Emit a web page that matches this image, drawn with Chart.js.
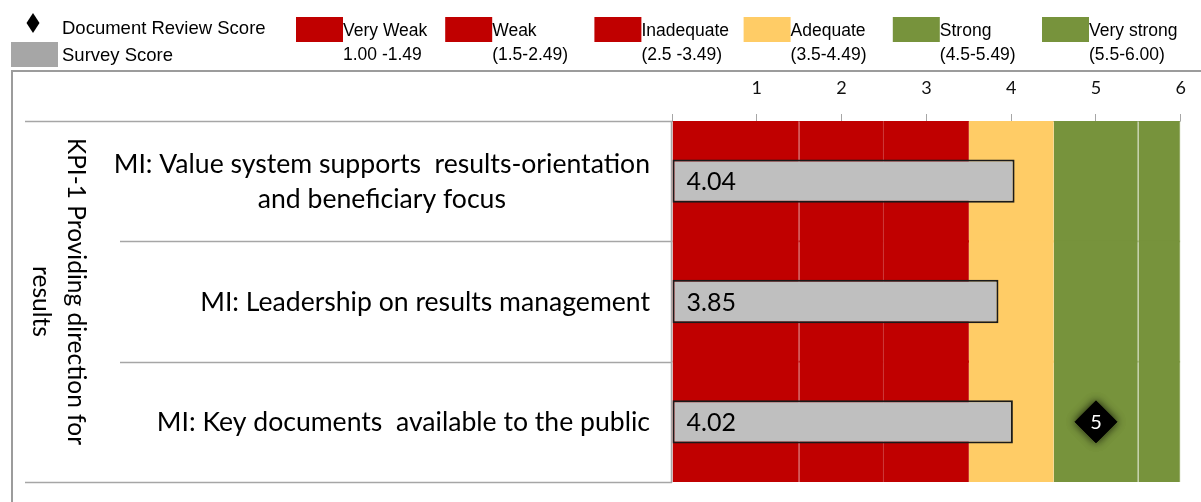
<!DOCTYPE html>
<html>
<head>
<meta charset="utf-8">
<title>KPI-1 Providing direction for results</title>
<script src="https://cdn.jsdelivr.net/npm/chart.js@4.4.1/dist/chart.umd.min.js"></script>
<style>
  html, body { margin: 0; padding: 0; background: #fff; }
  #wrap { width: 1201px; height: 502px; }
</style>
</head>
<body>
<div id="wrap"><canvas id="kpiChart" width="1201" height="502"></canvas></div>
<script>
// data
var groupLabel = ['KPI-1 Providing direction for', 'results'];
var rowLabels = [
    ['MI: Value system supports  results-orientation', 'and beneficiary focus'],
    ['MI: Leadership on results management'],
    ['MI: Key documents  available to the public']
];
var surveyScores = [4.04, 3.85, 4.02];
var documentScores = [null, null, 5];
var bandNames = ['Very Weak', 'Weak', 'Inadequate', 'Adequate', 'Strong', 'Very strong'];
var bandRanges = ['1.00 -1.49', '(1.5-2.49)', '(2.5 -3.49)', '(3.5-4.49)', '(4.5-5.49)', '(5.5-6.00)'];
var bandStarts = [0, 1.5, 2.5, 3.5, 4.5, 5.5];
var bandEnds = [1.5, 2.5, 3.5, 4.5, 5.5, 6];
var scoreMin = 0;
var scoreMax = 6;

// styles
var bandColors = ['#C00000', '#C00000', '#C00000', '#FFCC66', '#77933C', '#77933C'];
var bandEdgeColors = ['#CC3434', '#CC3434', '#C00000', '#FFCC66', '#9DB274', '#E4EAD6'];
var bandEdgeWidths = [1, 1, 0, 0, 1, 1];
var lineGray = '#A6A6A6';
var labelFont = 'Lato, "Open Sans", sans-serif';
var legendFont = '"Liberation Sans", Arial, sans-serif';

Chart.defaults.font.family = labelFont;
Chart.defaults.color = '#000';

var categoryNames = rowLabels.map(function (l) { return l.join(' '); });

var bandSets = bandNames.map(function (name, i) {
    return {
        type: 'bar',
        label: name,
        data: rowLabels.map(function () { return [bandStarts[i], bandEnds[i]]; }),
        backgroundColor: bandColors[i],
        borderColor: bandEdgeColors[i],
        borderWidth: { top: 0, bottom: 0, left: 0, right: bandEdgeWidths[i] },
        borderSkipped: false,
        barPercentage: 1.02,
        categoryPercentage: 1,
        grouped: false,
        order: 10
    };
});

var surveySet = {
    type: 'bar',
    label: 'Survey Score',
    data: surveyScores,
    backgroundColor: '#BFBFBF',
    borderColor: '#1A1A1A',
    borderWidth: 2,
    borderSkipped: false,
    barPercentage: 0.36,
    categoryPercentage: 1,
    grouped: false,
    order: 2
};

var documentSet = {
    type: 'line',
    label: 'Document Review Score',
    data: documentScores,
    indexAxis: 'y',
    showLine: false,
    pointStyle: 'rectRot',
    pointRadius: 21,
    pointBorderWidth: 1,
    pointBackgroundColor: '#000',
    pointBorderColor: '#000',
    order: 1
};

var datasets = bandSets.concat([surveySet, documentSet]);
var surveyIndex = bandSets.length;
var docIndex = bandSets.length + 1;

function drawLegend(c) {
    c.save();
    c.font = '18.5px ' + legendFont;
    c.textBaseline = 'alphabetic';
    c.textAlign = 'left';
    c.fillStyle = '#000';
    // diamond marker
    c.beginPath();
    c.moveTo(33, 13);
    c.lineTo(39.5, 23);
    c.lineTo(33, 33);
    c.lineTo(26.5, 23);
    c.closePath();
    c.fill();
    c.fillText('Document Review Score', 62, 34);
    c.fillStyle = '#A6A6A6';
    c.fillRect(11, 42, 47, 25);
    c.fillStyle = '#000';
    c.fillText('Survey Score', 62, 61);
    c.font = '17.5px ' + legendFont;
    bandNames.forEach(function (name, i) {
        var x = 296 + i * 149.2;
        c.fillStyle = bandColors[i];
        c.fillRect(x, 17, 47, 25);
        c.fillStyle = '#000';
        c.fillText(name, x + 47, 36);
        c.fillText(bandRanges[i], x + 47, 60);
    });
    c.restore();
}

var decorPlugin = {
    id: 'decor',
    beforeDatasetDraw: function (chart, args) {
        if (args.index === docIndex) {
            var c = chart.ctx;
            c.save();
            c.shadowColor = 'rgba(0,0,0,0.8)';
            c.shadowBlur = 9;
        }
    },
    afterDatasetDraw: function (chart, args) {
        if (args.index === docIndex) chart.ctx.restore();
    },
    afterDraw: function (chart) {
        var c = chart.ctx;
        var area = chart.chartArea;
        var yScale = chart.scales.y;

        drawLegend(c);

        // outer frame
        c.save();
        c.strokeStyle = '#9C9C9C';
        c.lineWidth = 2;
        c.strokeRect(12, 71, 1200, 460);
        c.restore();

        // category lines on the left
        c.save();
        c.strokeStyle = lineGray;
        c.lineWidth = 1.5;
        for (var i = 0; i <= rowLabels.length; i++) {
            var py = Math.round(yScale.getPixelForValue(i - 0.5)) + 0.5;
            var startX = (i === 0 || i === rowLabels.length) ? 25 : 120;
            c.beginPath();
            c.moveTo(startX, py);
            c.lineTo(area.left, py);
            c.stroke();
        }
        // value axis line
        c.beginPath();
        c.moveTo(area.left - 0.5, area.top);
        c.lineTo(area.left - 0.5, area.bottom + 1);
        c.stroke();
        c.restore();

        // row labels
        c.save();
        c.fillStyle = '#000';
        c.font = '26.6px ' + labelFont;
        c.textBaseline = 'alphabetic';
        rowLabels.forEach(function (lines, i) {
            var cy = yScale.getPixelForValue(i);
            var maxW = 0;
            lines.forEach(function (t) { maxW = Math.max(maxW, c.measureText(t).width); });
            var cx = 650 - maxW / 2;
            c.textAlign = 'center';
            lines.forEach(function (t, k) {
                var ly = cy - (lines.length - 1) * 35 / 2 + k * 35;
                c.fillText(t, cx, ly + 9);
            });
        });
        c.restore();

        // group label, rotated
        c.save();
        c.fillStyle = '#000';
        c.font = '24.5px ' + labelFont;
        c.textAlign = 'center';
        c.textBaseline = 'alphabetic';
        var midY = (area.top + area.bottom) / 2;
        var groupPos = [[68, midY - 10], [33, midY]];
        groupLabel.forEach(function (t, k) {
            c.save();
            c.translate(groupPos[k][0], groupPos[k][1]);
            c.rotate(Math.PI / 2);
            c.fillText(t, 0, 0);
            c.restore();
        });
        c.restore();

        // value labels
        c.save();
        c.font = '25px ' + labelFont;
        c.fillStyle = '#000';
        c.textAlign = 'left';
        c.textBaseline = 'alphabetic';
        chart.getDatasetMeta(surveyIndex).data.forEach(function (el, i) {
            c.fillText(surveyScores[i].toFixed(2), el.base + 14, el.y + 9);
        });
        c.font = '20px ' + labelFont;
        c.fillStyle = '#fff';
        c.textAlign = 'center';
        chart.getDatasetMeta(docIndex).data.forEach(function (el, i) {
            if (documentScores[i] === null) return;
            c.fillText(String(documentScores[i]), el.x, el.y + 7);
        });
        c.restore();
    }
};

var chart = new Chart(document.getElementById('kpiChart'), {
    type: 'bar',
    data: {
        labels: categoryNames,
        datasets: datasets
    },
    options: {
        indexAxis: 'y',
        responsive: false,
        animation: false,
        layout: {
            // the big diamond would otherwise push the plot in by its radius
            autoPadding: false,
            padding: { left: 672, right: 19, top: 71, bottom: 20 }
        },
        plugins: {
            legend: { display: false },
            tooltip: { enabled: false }
        },
        scales: {
            x: {
                type: 'linear',
                position: 'top',
                min: scoreMin,
                max: scoreMax,
                afterFit: function (scale) { scale.height = 50; },
                ticks: {
                    stepSize: 1,
                    padding: 15,
                    color: '#111',
                    font: { size: 18 },
                    callback: function (v) { return v === 0 ? '' : v; }
                },
                grid: {
                    drawOnChartArea: false,
                    drawTicks: true,
                    tickLength: 7,
                    color: lineGray
                },
                border: { display: true, color: lineGray }
            },
            y: {
                type: 'category',
                display: false
            }
        }
    },
    plugins: [decorPlugin]
});
</script>
</body>
</html>
